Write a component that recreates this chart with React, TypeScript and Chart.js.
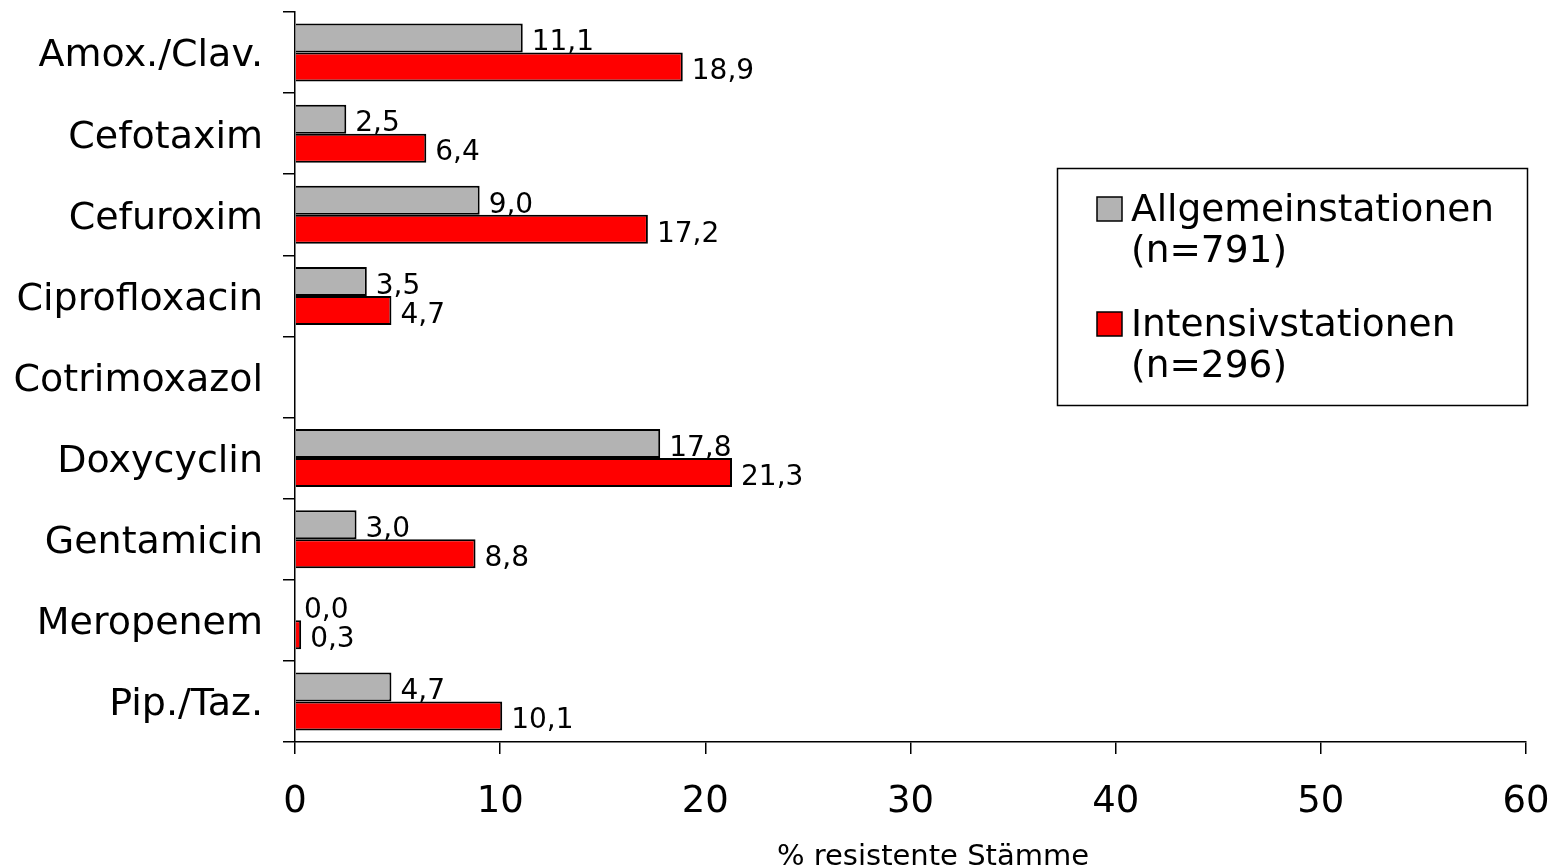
import React, { useEffect, useRef } from "react";
import { Chart, registerables } from "chart.js";

Chart.register(...registerables);

const categories = [
  "Amox./Clav.",
  "Cefotaxim",
  "Cefuroxim",
  "Ciprofloxacin",
  "Cotrimoxazol",
  "Doxycyclin",
  "Gentamicin",
  "Meropenem",
  "Pip./Taz.",
];
const allgemein: (number | null)[] = [11.1, 2.5, 9.0, 3.5, null, 17.8, 3.0, 0.0, 4.7];
const intensiv: (number | null)[] = [18.9, 6.4, 17.2, 4.7, null, 21.3, 8.8, 0.3, 10.1];
const seriesNames = [["Allgemeinstationen", "(n=791)"], ["Intensivstationen", "(n=296)"]];
const seriesColors = ["#b3b3b3", "#ff0000"];
const xTicks = [0, 10, 20, 30, 40, 50, 60];
const xTitle = "% resistente Stämme";

const FONT = "'DejaVu Sans', Verdana, sans-serif";

const labelPlugin = {
  id: "valueLabels",
  afterDatasetsDraw(chart: any) {
    const ctx = chart.ctx;
    ctx.save();
    ctx.font = `28px ${FONT}`;
    ctx.fillStyle = "#000";
    ctx.textAlign = "left";
    ctx.textBaseline = "middle";
    chart.data.datasets.forEach((ds: any, di: number) => {
      const meta = chart.getDatasetMeta(di);
      meta.data.forEach((el: any, i: number) => {
        const v = ds.data[i];
        if (v === null || v === undefined) return;
        const txt = v.toFixed(1).replace(".", ",");
        ctx.fillText(txt, el.x + 9, el.y + 5);
      });
    });
    ctx.restore();
  },
};

const decorPlugin = {
  id: "decor",
  afterDraw(chart: any) {
    const ctx = chart.ctx;
    ctx.save();
    ctx.font = `29px ${FONT}`;
    ctx.fillStyle = "#000";
    ctx.textAlign = "center";
    ctx.textBaseline = "middle";
    ctx.fillText(xTitle, 933, 857);
    const bx = 1057, by = 168, bw = 470, bh = 237;
    ctx.lineWidth = 1.5;
    ctx.strokeStyle = "#000";
    ctx.strokeRect(bx + 0.5, by + 0.5, bw, bh);
    ctx.font = `37.5px ${FONT}`;
    ctx.textAlign = "left";
    const rows = [209, 324];
    seriesNames.forEach((lines, i) => {
      const cy = rows[i];
      ctx.fillStyle = seriesColors[i];
      ctx.fillRect(1097, cy - 12, 25, 24);
      ctx.strokeRect(1097, cy - 12, 25, 24);
      ctx.fillStyle = "#000";
      ctx.fillText(lines[0], 1131, cy + 2);
      ctx.fillText(lines[1], 1131, cy + 43);
    });
    ctx.restore();
  },
};

function zeroPad(scale: any) {
  scale.paddingTop = 0;
  scale.paddingBottom = 0;
  scale.paddingLeft = 0;
  scale.paddingRight = 0;
}

export default function App() {
  const ref = useRef<HTMLCanvasElement>(null);
  useEffect(() => {
    if (!ref.current) return;
    const chart = new Chart(ref.current, {
      type: "bar",
      data: {
        labels: categories,
        datasets: [
          {
            label: seriesNames[0].join(" "),
            data: allgemein,
            backgroundColor: seriesColors[0],
            borderColor: "#000",
            borderWidth: 2,
            categoryPercentage: 0.715,
            barPercentage: 1,
          },
          {
            label: seriesNames[1].join(" "),
            data: intensiv,
            backgroundColor: seriesColors[1],
            borderColor: "#000",
            borderWidth: 2,
            categoryPercentage: 0.715,
            barPercentage: 1,
          },
        ],
      },
      options: {
        indexAxis: "y",
        responsive: false,
        animation: false,
        layout: { padding: { top: 12, right: 30, left: 0, bottom: 0 } },
        plugins: { legend: { display: false }, tooltip: { enabled: false } },
        scales: {
          x: {
            min: 0,
            max: 60,
            afterBuildTicks: (scale: any) => {
              scale.ticks = xTicks.map((v) => ({ value: v }));
            },
            afterFit: (scale: any) => {
              scale.height = 126;
              zeroPad(scale);
            },
            grid: {
              drawOnChartArea: false,
              drawTicks: true,
              tickLength: 12,
              color: "#000",
              lineWidth: 1.5,
            },
            border: { color: "#000", width: 1.5 },
            ticks: {
              color: "#000",
              font: { family: FONT, size: 37 },
              padding: 26,
              maxRotation: 0,
            },
          },
          y: {
            afterFit: (scale: any) => {
              scale.width = 295;
              zeroPad(scale);
            },
            grid: {
              offset: true,
              drawOnChartArea: false,
              drawTicks: true,
              tickLength: 12,
              color: "#000",
              lineWidth: 1.5,
            },
            border: { color: "#000", width: 1.5 },
            ticks: {
              color: "#000",
              font: { family: FONT, size: 38 },
              padding: 20,
              labelOffset: 4,
            },
          },
        },
      },
      plugins: [labelPlugin, decorPlugin],
    });
    return () => chart.destroy();
  }, []);
  return (
    <div style={{ position: "fixed", left: 0, top: 0, width: 1556, height: 868, background: "#fff" }}>
      <canvas ref={ref} width={1556} height={868} />
    </div>
  );
}
